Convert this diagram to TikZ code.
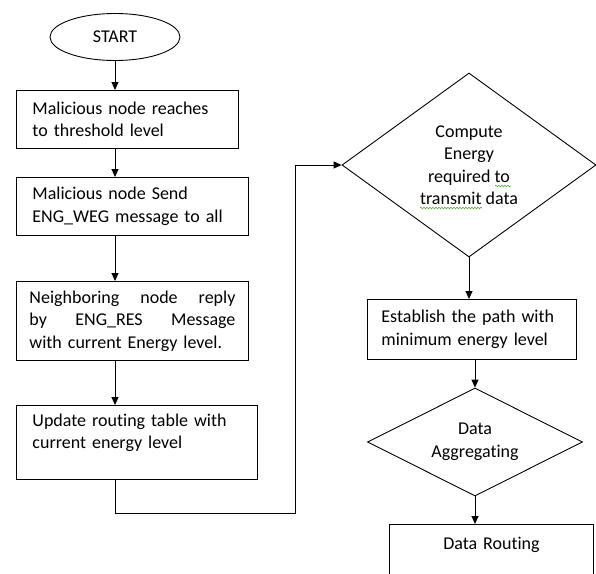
\documentclass[tikz,border=0pt]{standalone}
\usepackage{fontspec}
\setmainfont{Carlito}[Ligatures=NoCommon]
\usetikzlibrary{shapes.geometric,arrows.meta,positioning,decorations.pathmorphing}
\newcommand\boxfont{\fontsize{18}{22.5}\selectfont}
\tikzstyle{terminal} = [draw,ellipse,line width=0.9pt,inner sep=0,minimum width=130pt,minimum height=47pt,font=\boxfont]
\tikzstyle{process} = [draw,rectangle,line width=0.9pt,inner ysep=0,inner xsep=16pt,align=left,anchor=north west,font=\boxfont]
\tikzstyle{decision} = [draw,diamond,line width=0.9pt,inner sep=0]
\tikzstyle{flow} = [-{Triangle[length=8pt,width=7pt]},line width=0.9pt]
\tikzstyle{spell} = [decorate,decoration={snake,amplitude=0.8pt,segment length=3pt},color={rgb,255:red,90;green,170;blue,60},line width=0.6pt]

\begin{document}
\begin{tikzpicture}[x=1pt,y=-1pt]
    \clip (0,0) rectangle (596,573);
    % left column
    \node[terminal] (start) at (115,37) {START};
    \node[process,minimum width=222pt,minimum height=58pt,text width=190pt] (reach) at (16,90) {Malicious node reaches\\ to threshold level};
    \node[process,minimum width=232pt,minimum height=58pt,text width=200pt] (send) at (16,177) {Malicious node Send\\ ENG\_WEG message to all};
    \node[process,minimum width=232pt,minimum height=79pt,text width=206pt,inner xsep=13pt] (reply) at (16,281) {Neighboring\hfill node\hfill reply\\ by\hfill ENG\_RES\hfill Message\\ with current Energy level.};
    \node[process,minimum width=241pt,minimum height=74pt,text width=209pt] (update) at (16,405) {Update routing table with\\ current energy level\\ \mbox{}};
    % right column
    \node[decision,minimum width=254pt,minimum height=184pt] (compute) at (469,165) {};
    \node[font=\boxfont,align=center] (computetext) at (compute) {Compute\\ Energy\\ required to\\ transmit data};
    \node[process,minimum width=209pt,minimum height=60pt,text width=181pt,inner xsep=14pt] (path) at (367,299) {Establish the path with\\ minimum energy level};
    \node[decision,minimum width=215pt,minimum height=108pt] (aggregate) at (475,442) {};
    \node[font=\boxfont,align=center] (aggregatetext) at (aggregate) {Data\\ Aggregating};
    \node[process,minimum width=204pt,minimum height=60pt,text width=172pt,align=center] (routing) at (389,524) {Data Routing\\ \mbox{}};
    \coordinate (bend) at (295,513);
    % connectors
    \draw[flow] (start.south) -- (start.south |- reach.north);
    \draw[flow] (start.south |- reach.south) -- (start.south |- send.north);
    \draw[flow] (start.south |- send.south) -- (start.south |- reply.north);
    \draw[flow] (start.south |- reply.south) -- (start.south |- update.north);
    \draw[flow] (start.south |- update.south) |- (bend) |- (compute.west);
    \draw[flow] (compute.south) -- (compute.south |- path.north);
    \draw[flow] (aggregate.north |- path.south) -- (aggregate.north);
    \draw[flow] (aggregate.south) -- (aggregate.south |- routing.north);
    % spell check marks
    \draw[spell] (495,186) -- (511,186);
    \draw[spell] (420,208) -- (482,208);
\end{tikzpicture}
\end{document}
